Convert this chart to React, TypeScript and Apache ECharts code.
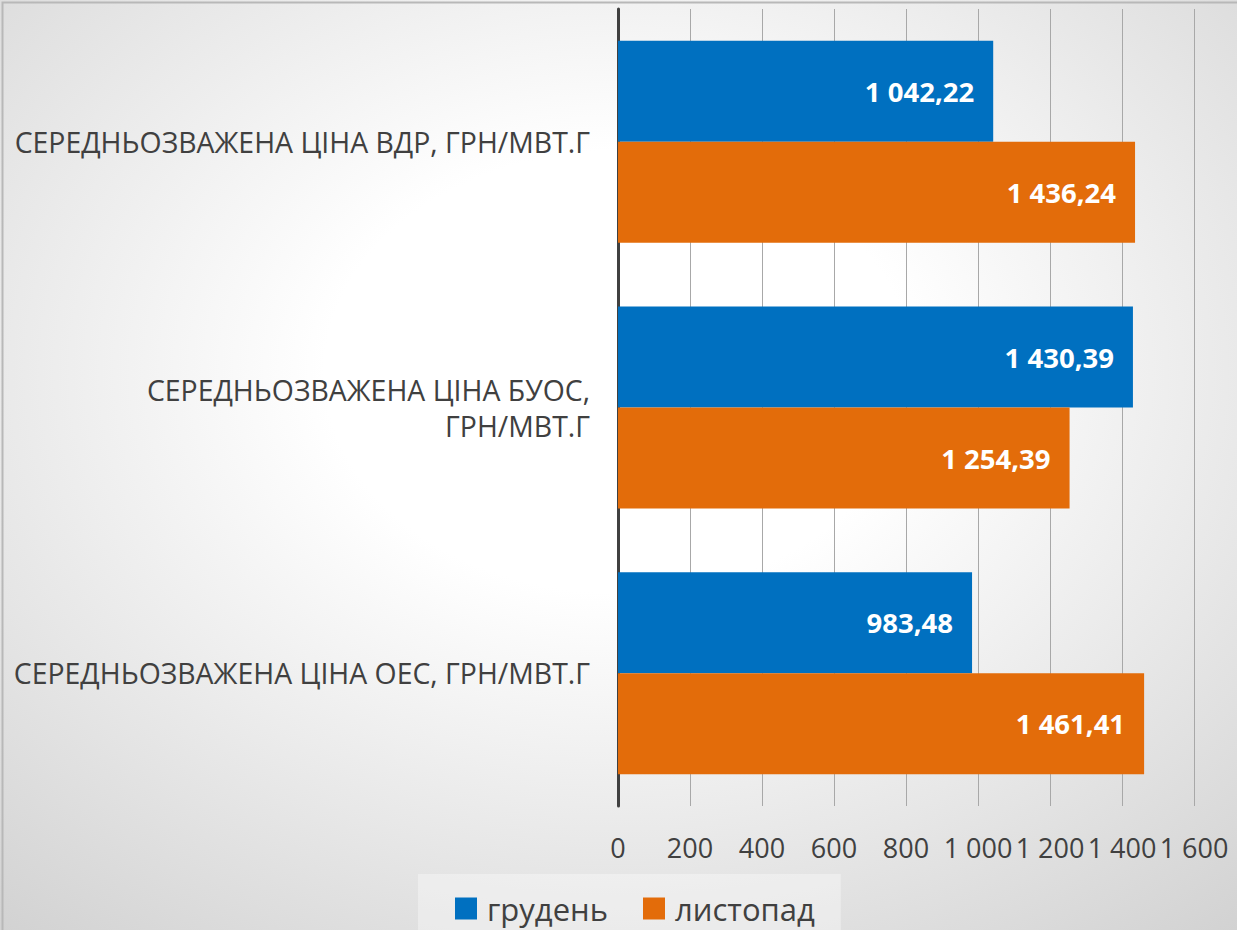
import React, { useEffect, useRef } from "react";
import * as echarts from "echarts";

const categories = [
  "СЕРЕДНЬОЗВАЖЕНА ЦІНА ВДР, ГРН/МВТ.Г",
  "СЕРЕДНЬОЗВАЖЕНА ЦІНА БУОС,\nГРН/МВТ.Г",
  "СЕРЕДНЬОЗВАЖЕНА ЦІНА ОЕС, ГРН/МВТ.Г",
];
const seriesNames = ["грудень", "листопад"];
const grudenValues = [1042.22, 1430.39, 983.48];
const lystopadValues = [1436.24, 1254.39, 1461.41];
const axisMin = 0;
const axisMax = 1600;
const axisStep = 200;

const FONT = "'Open Sans', sans-serif";

function fmtValue(v: number): string {
  const [i, d] = v.toFixed(2).split(".");
  const withSep = i.replace(/\B(?=(\d{3})+(?!\d))/g, " ");
  return withSep + "," + d;
}
function fmtTick(v: number): string {
  return String(v).replace(/\B(?=(\d{3})+(?!\d))/g, " ");
}

export default function App() {
  const ref = useRef<HTMLDivElement>(null);
  useEffect(() => {
    if (!ref.current) return;
    const chart = echarts.init(ref.current, undefined, { renderer: "svg" });
    const labelCfg = {
      show: true,
      position: "insideRight",
      distance: 19,
      color: "#ffffff",
      fontFamily: FONT,
      fontWeight: "bold",
      fontSize: 27.5,
      formatter: (p: any) => fmtValue(p.value),
    };
    chart.setOption({
      animation: false,
      backgroundColor: {
        type: "radial",
        x: 0.5,
        y: 0.4,
        r: 0.95,
        colorStops: [
          { offset: 0, color: "#ffffff" },
          { offset: 0.25, color: "#ffffff" },
          { offset: 1, color: "#c4c4c4" },
        ],
      },
      textStyle: { fontFamily: FONT },
      grid: { left: 618, right: 43, top: 9, bottom: 124, containLabel: false },
      legend: {
        data: seriesNames,
        left: 418,
        top: 874,
        icon: "rect",
        itemWidth: 22,
        itemHeight: 22,
        itemGap: 35,
        padding: [19, 26, 19, 37],
        backgroundColor: "rgba(255,255,255,0.35)",
        textStyle: { color: "#404040", fontSize: 31, fontFamily: FONT, padding: [0, 0, 0, 5] },
      },
      xAxis: {
        type: "value",
        min: axisMin,
        max: axisMax,
        interval: axisStep,
        axisLine: { show: false },
        axisTick: { show: false },
        splitLine: { show: true, lineStyle: { color: "#a8a8a8", width: 1 } },
        axisLabel: {
          color: "#404040",
          fontSize: 27,
          fontFamily: FONT,
          margin: 28,
          hideOverlap: false,
          formatter: (v: number) => fmtTick(v),
        },
      },
      yAxis: {
        type: "category",
        inverse: true,
        data: categories,
        axisLine: { show: true, lineStyle: { color: "#404040", width: 3 } },
        axisTick: { show: false },
        axisLabel: {
          color: "#404040",
          fontSize: 28.4,
          fontFamily: FONT,
          margin: 28,
          lineHeight: 36,
        },
      },
      series: [
        {
          name: seriesNames[0],
          type: "bar",
          data: grudenValues,
          barWidth: 101,
          barGap: "0%",
          itemStyle: { color: "#0070C0" },
          label: labelCfg,
        },
        {
          name: seriesNames[1],
          type: "bar",
          data: lystopadValues,
          barWidth: 101,
          barGap: "0%",
          itemStyle: { color: "#E36C0A" },
          label: labelCfg,
        },
      ],
      graphic: [
        {
          type: "rect",
          left: 0,
          top: 0,
          shape: { x: 0, y: 0, width: 1236, height: 929 },
          style: { fill: "none", stroke: "#b8b8b8", lineWidth: 2 },
          silent: true,
          z: -1,
        },
      ],
    });
    return () => chart.dispose();
  }, []);
  return (
    <div
      ref={ref}
      style={{ position: "absolute", left: 0, top: 0, width: 1237, height: 930 }}
    />
  );
}
